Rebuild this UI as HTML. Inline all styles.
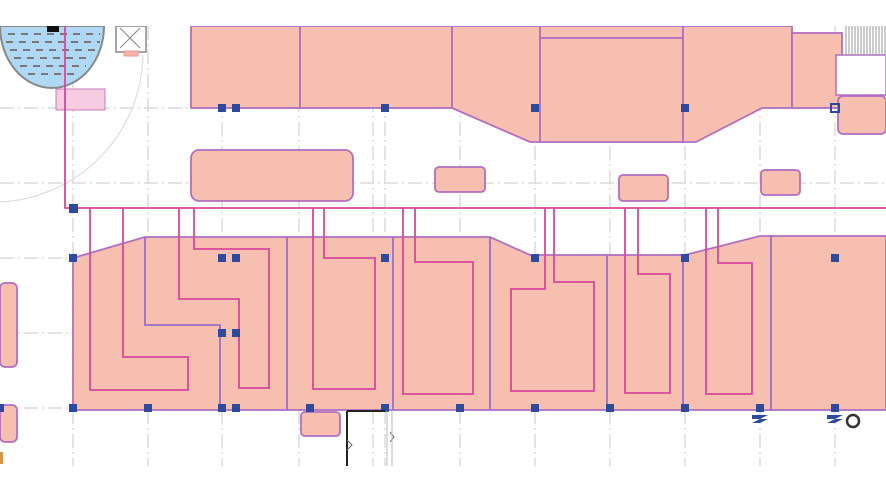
<!DOCTYPE html>
<html><head><meta charset="utf-8"><style>body{margin:0;background:#fff}svg{display:block}</style></head><body>
<svg width="886" height="486" viewBox="0 0 886 486" xmlns="http://www.w3.org/2000/svg">
<rect width="886" height="486" fill="#fff"/>
<g stroke="#dcdcdc" stroke-width="1.5" stroke-dasharray="14,4,2,4" fill="none">
<path d="M73 26V466M148 26V466M222 26V466M299 26V466M373 26V466M385 26V466M460 26V466M535 26V466M610 26V466M685 26V466M760 26V466M835 26V466"/>
<path d="M0 108H886M0 183H886M0 258H886M0 333H886M0 408H886"/>
</g>
<path d="M143 55 A150 150 0 0 1 0 202" stroke="#ddd" stroke-width="1.2" fill="none"/>
<!-- tank -->
<path d="M0 26 H104 A52 62 0 0 1 0 26Z" fill="#aed8f3" stroke="#888" stroke-width="2"/>
<g stroke="#777" stroke-width="2" stroke-dasharray="7,6"><path d="M8 34H100M6 42H100M10 50H96M14 58H92M20 66H86M28 74H78"/></g>
<rect x="47" y="26" width="12" height="6" fill="#111"/>
<rect x="56" y="89" width="49" height="21" fill="#f6cde0" stroke="#c879c0"/>
<rect x="116" y="26" width="30" height="26" fill="#fff" stroke="#888" stroke-width="1.5"/>
<path d="M120 28L140 48M140 28L120 48" stroke="#888"/>
<rect x="124" y="51" width="14" height="5" fill="#f5b4a5" stroke="#e99"/>
<!-- top building -->
<g fill="#f7bfb0" stroke="#b06fc0" stroke-width="1.8">
<rect x="191" y="26" width="109" height="82"/>
<rect x="300" y="26" width="152" height="82"/>
<path d="M452 26H540V142H530L452 108Z"/>
<rect x="540" y="26" width="143" height="12"/>
<rect x="540" y="38" width="143" height="104"/>
<path d="M683 26H792V108H762L696 142H683Z"/>
<rect x="792" y="33" width="50" height="75"/>
<rect x="838" y="96" width="48" height="38" rx="5"/>
<rect x="191" y="150" width="162" height="51" rx="8"/>
<rect x="435" y="167" width="50" height="25" rx="4"/>
<rect x="619" y="175" width="49" height="26" rx="4"/>
<rect x="761" y="170" width="39" height="25" rx="4"/>
<rect x="0" y="283" width="17" height="84" rx="5"/>
<rect x="0" y="405" width="17" height="37" rx="5"/>
<rect x="301" y="412" width="39" height="24" rx="4"/>
</g>
<rect x="836" y="55" width="50" height="40" fill="#fff" stroke="#b06fc0" stroke-width="1.5"/>
<g stroke="#999" stroke-width="1"><path d="M846 26V55M849 26V55M852 26V55M855 26V55M858 26V55M861 26V55M864 26V55M867 26V55M870 26V55M873 26V55M876 26V55M879 26V55M882 26V55M885 26V55"/></g>
<!-- bottom building -->
<path d="M73 258L145 237H490L530 255H685L760 236H886V410H73Z" fill="#f7bfb0" stroke="#b06fc0" stroke-width="1.8"/>
<g stroke="#9b6fc8" stroke-width="1.8" fill="none">
<path d="M145 237V325H220V410M287 237V410M393 237V410M490 237V410M607 255V410M683 255V410M771 236V410"/>
</g>
<!-- pipes -->
<g stroke="#d9479a" stroke-width="1.8" fill="none">
<path d="M65 26V208H886"/>
<path d="M90 208V390H188V357H123V208"/>
<path d="M179 208V299H239V388H269V249H194V208"/>
<path d="M313 208V389H375V258H324V208"/>
<path d="M403 208V394H473V262H415V208"/>
<path d="M545 208V289H511V391H594V282H554V208"/>
<path d="M625 208V393H670V274H638V208"/>
<path d="M706 208V394H752V263H718V208"/>
</g>
<!-- nodes -->
<g fill="#2d4a9c">
<rect x="69" y="204" width="9" height="9"/>
<rect x="218" y="104" width="8" height="8"/><rect x="232" y="104" width="8" height="8"/><rect x="381" y="104" width="8" height="8"/><rect x="531" y="104" width="8" height="8"/><rect x="681" y="104" width="8" height="8"/>
<rect x="69" y="254" width="8" height="8"/><rect x="218" y="254" width="8" height="8"/><rect x="232" y="254" width="8" height="8"/><rect x="381" y="254" width="8" height="8"/><rect x="531" y="254" width="8" height="8"/><rect x="681" y="254" width="8" height="8"/><rect x="831" y="254" width="8" height="8"/>
<rect x="218" y="329" width="8" height="8"/><rect x="232" y="329" width="8" height="8"/>
<rect x="-4" y="404" width="8" height="8"/><rect x="69" y="404" width="8" height="8"/><rect x="144" y="404" width="8" height="8"/><rect x="218" y="404" width="8" height="8"/><rect x="232" y="404" width="8" height="8"/><rect x="306" y="404" width="8" height="8"/><rect x="381" y="404" width="8" height="8"/><rect x="456" y="404" width="8" height="8"/><rect x="531" y="404" width="8" height="8"/><rect x="606" y="404" width="8" height="8"/><rect x="681" y="404" width="8" height="8"/><rect x="756" y="404" width="8" height="8"/><rect x="831" y="404" width="8" height="8"/>
<path d="M752 415h16l-8 4h8l-8 4h-8l8-4h-8zM827 415h16l-8 4h8l-8 4h-8l8-4h-8z"/>
</g>
<rect x="831" y="104" width="8" height="8" fill="none" stroke="#2d4a9c" stroke-width="2"/>
<circle cx="853" cy="421" r="6" fill="none" stroke="#333" stroke-width="2.5"/>
<path d="M347 411V466M347 411H385" stroke="#222" stroke-width="2" fill="none"/>
<path d="M347 440l5 5-5 5M390 432l4 5-4 5" stroke="#666" fill="none"/>
<path d="M387 411V466M392 411V466" stroke="#bbb" fill="none"/>
<rect x="0" y="452" width="3" height="12" fill="#d9934a"/>
<rect x="0" y="466" width="886" height="20" fill="#fff"/>
<rect x="0" y="0" width="886" height="26" fill="#fff"/>
</svg>
</body></html>
